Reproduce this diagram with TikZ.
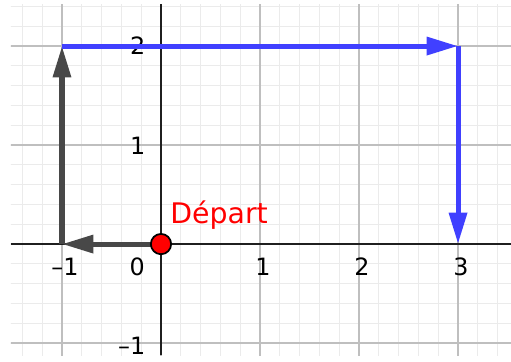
\documentclass[tikz,border=0pt]{standalone}
\usepackage{fontspec}
\setsansfont{DejaVu Sans}
\usetikzlibrary{arrows.meta}

\definecolor{vecblue}{RGB}{64,64,255}
\definecolor{vecgray}{RGB}{72,72,72}

\begin{document}
\begin{tikzpicture}[
    x=2cm, y=2cm,
    >={Triangle[length=18pt,width=10pt]},
    font=\sffamily,
    minorgrid/.style={draw=black!8, line width=0.5pt},
    majorgrid/.style={draw=black!25, line width=0.8pt},
    axis/.style={draw=black!88, line width=1.1pt},
    ticklabel/.style={font=\fontsize{13.7}{16}\sffamily, inner sep=0pt},
    grayvec/.style={->, draw=vecgray, line width=2.9pt},
    bluevec/.style={->, draw=vecblue, line width=2.9pt},
    startdot/.style={circle, draw=black, fill=red, line width=1pt,
                     minimum size=0.41cm, inner sep=0pt},
]
\useasboundingbox (-1.626,-1.182) rectangle (3.535,2.465);

% grid
\begin{scope}
  \clip (-1.515,-1.121) rectangle (3.535,2.424);
  \draw[minorgrid] (-2,-2) grid[step=0.2] (4,3);
  \draw[majorgrid] (-2,-2) grid[step=1] (4,3);
\end{scope}

% axes
\coordinate (xmin) at (-1.515,0);
\coordinate (xmax) at (3.535,0);
\coordinate (ymin) at (0,-1.121);
\coordinate (ymax) at (0,2.424);
\draw[axis] (xmin) -- (xmax);
\draw[axis] (ymin) -- (ymax);

% tick labels
\foreach \xv/\xt in {-1/–1, 1/1, 2/2, 3/3}
  \node[ticklabel] (xtick\xt) at (\xv+0.03,-0.232) {\xt};
\node[ticklabel] (xtick0) at (-0.24,-0.232) {0};
\foreach \yv/\yt in {2/2, 0.99/1, -1.03/–1}
  \node[ticklabel, anchor=east] (ytick\yt) at (-0.155,\yv) {\yt};

% path
\coordinate (O) at (0,0);
\coordinate (A) at (-1,0);
\coordinate (B) at (-1,2);
\coordinate (C) at (3,2);
\coordinate (D) at (3,0);

\draw[grayvec] (O) -- (A);
\draw[grayvec] (A) -- (B);
\draw[bluevec] (B) -- (C);
\draw[bluevec] (C) -- (D);

\node[startdot] (start) at (O) {};
\node[anchor=base west, inner sep=0pt, text=red,
      font=\fontsize{16.3}{19}\sffamily] (depart) at (0.091,0.209) {Départ};

\end{tikzpicture}
\end{document}
